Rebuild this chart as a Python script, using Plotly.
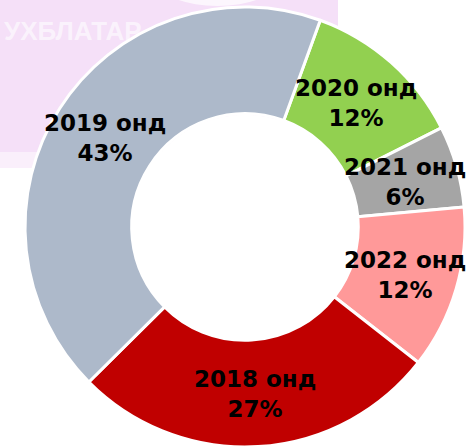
import math
import plotly.graph_objects as go

# Share of records by year (percent)
years = ["2020 онд", "2021 онд", "2022 онд", "2018 онд", "2019 онд"]
shares = [12, 6, 12, 27, 43]
colors = ["#92D050", "#A5A5A5", "#FF9999", "#C00000", "#ADB9CA"]

W, H = 471, 447
ROTATION = 20          # degrees clockwise from 12 o'clock where the first slice starts
CX, CY, R = 245, 228, 220
HOLE = 0.515
LABEL_R = R * (1 + HOLE) / 2

fig = go.Figure()
fig.add_trace(go.Pie(
    labels=years,
    values=shares,
    sort=False,
    direction="clockwise",
    rotation=ROTATION,
    hole=HOLE,
    marker=dict(colors=colors, line=dict(color="white", width=3)),
    textinfo="none",
    hoverinfo="label+percent",
    showlegend=False,
    domain=dict(x=[(CX - R) / W, (CX + R) / W], y=[0, 2 * R / H]),
))

# Faded slide background in the top-left corner (drawn first, under the labels)
annotations = [dict(
    x=2 / W, y=1 - 31 / H, xref="paper", yref="paper",
    text="<b>УХБЛАТАР</b>", showarrow=False, xanchor="left", yanchor="middle",
    font=dict(family="Liberation Sans", size=26, color="rgba(255,255,255,0.6)"),
)]

# Labels placed at the middle of each ring segment
total = sum(shares)
start = ROTATION
for name, val in zip(years, shares):
    sweep = val / total * 360
    mid = math.radians(start + sweep / 2)
    start += sweep
    px = CX + LABEL_R * math.sin(mid)
    py = CY - LABEL_R * math.cos(mid)
    annotations.append(dict(
        x=px / W, y=1 - py / H, xref="paper", yref="paper",
        text=f"<b>{name}<br>{val}%</b>", showarrow=False,
        xanchor="center", yanchor="middle",
        font=dict(family="DejaVu Sans", size=23, color="black"),
    ))

hole_r = R * HOLE
shapes = [
    dict(type="rect", xref="paper", yref="paper", x0=0, x1=338 / W,
         y0=1 - 152 / H, y1=1, fillcolor="#F5E0F8", line=dict(width=0), layer="below"),
    dict(type="rect", xref="paper", yref="paper", x0=0, x1=120 / W,
         y0=1 - 168 / H, y1=1 - 152 / H, fillcolor="rgba(245,224,248,0.5)",
         line=dict(width=0), layer="below"),
    dict(type="circle", xref="paper", yref="paper", x0=160 / W, x1=275 / W,
         y0=1 - 6 / H, y1=1 + 40 / H, fillcolor="rgba(255,255,255,0.7)",
         line=dict(width=0), layer="below"),
    # white centre behind the transparent hole
    dict(type="circle", xref="paper", yref="paper",
         x0=(CX - hole_r) / W, x1=(CX + hole_r) / W,
         y0=1 - (CY + hole_r) / H, y1=1 - (CY - hole_r) / H,
         fillcolor="white", line=dict(width=0), layer="below"),
]

fig.update_layout(
    width=W, height=H,
    margin=dict(l=0, r=0, t=0, b=0),
    paper_bgcolor="white",
    plot_bgcolor="white",
    annotations=annotations,
    shapes=shapes,
)

fig.write_html("out.html")
